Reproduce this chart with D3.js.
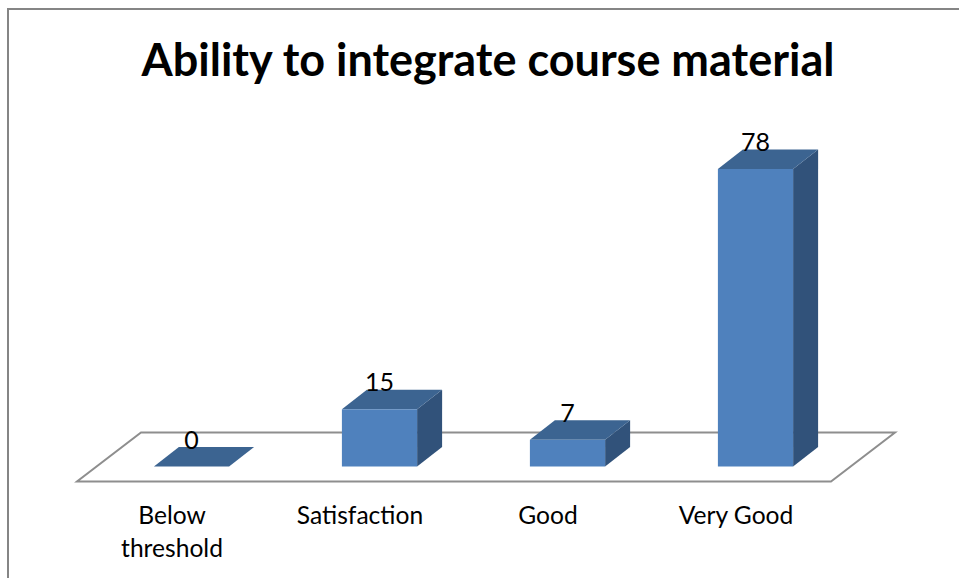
<!DOCTYPE html>
<html>
<head>
<meta charset="utf-8">
<script src="https://cdn.jsdelivr.net/npm/d3@7"></script>
<style>
    html, body { margin: 0; padding: 0; background: #fff; }
    svg { display: block; }
    text { font-family: Lato, sans-serif; fill: #000; }
</style>
</head>
<body>
<svg width="959" height="578"></svg>
<script>
var titleText  = 'Ability to integrate course material',
    categories = [ 'Below threshold', 'Satisfaction', 'Good', 'Very Good' ],
    axisLines  = { 'Below threshold' : [ 'Below', 'threshold' ] },
    values     = [ 0, 15, 7, 78 ];

var svg    = d3.select( 'svg' ),
    // oblique offset of the chart's fake 3D depth
    depth  = { x : 25, y : -19.5 },

    x = d3.scaleBand()
        .domain( categories )
        .range( [ 97.5, 849.5 ] )
        .paddingInner( 0.6 )
        .paddingOuter( 0.3 ),
    y = d3.scaleLinear()
        .domain( [ 0, 78 ] )
        .range( [ 466.5, 169 ] ),

    line = d3.line();

// frame, cut by the edge of the page on the right and at the bottom
svg.append( 'path' )
    .attr( 'd', line( [ [ 8, 578 ], [ 8, 9 ], [ 959, 9 ] ] ) )
    .attr( 'fill', 'none' )
    .attr( 'stroke', '#858585' )
    .attr( 'stroke-width', 2 );

svg.append( 'text' )
    .attr( 'x', 488 )
    .attr( 'y', 76 )
    .attr( 'text-anchor', 'middle' )
    .attr( 'font-size', 45 )
    .attr( 'font-weight', 700 )
    .text( titleText );

// floor of the plot
svg.append( 'path' )
    .attr( 'd', line( [ [ 77, 481.5 ], [ 831, 481.5 ], [ 895, 432.5 ], [ 141, 432.5 ] ] ) + 'Z' )
    .attr( 'fill', '#fff' )
    .attr( 'stroke', '#8e8e8e' )
    .attr( 'stroke-width', 2 );

var bars = svg.selectAll( '.bar' )
    .data( values )
    .enter().append( 'g' )
    .attr( 'class', 'bar' );

bars.append( 'path' )
    .attr( 'fill', '#31527a' )
    .attr( 'd', function ( d, i ) {
        var right = x( categories[ i ] ) + x.bandwidth();
        return line( [
            [ right, y( d ) ],
            [ right + depth.x, y( d ) + depth.y ],
            [ right + depth.x, y( 0 ) + depth.y ],
            [ right, y( 0 ) ]
        ] ) + 'Z';
    } );

bars.append( 'path' )
    .attr( 'fill', '#3c6491' )
    .attr( 'd', function ( d, i ) {
        var left  = x( categories[ i ] ),
            right = left + x.bandwidth();
        return line( [
            [ left, y( d ) ],
            [ left + depth.x, y( d ) + depth.y ],
            [ right + depth.x, y( d ) + depth.y ],
            [ right, y( d ) ]
        ] ) + 'Z';
    } );

bars.append( 'rect' )
    .attr( 'fill', '#4f81bd' )
    .attr( 'x', function ( d, i ) {
        return x( categories[ i ] );
    } )
    .attr( 'y', function ( d ) {
        return y( d );
    } )
    .attr( 'width', x.bandwidth() )
    .attr( 'height', function ( d ) {
        return y( 0 ) - y( d );
    } );

bars.append( 'text' )
    .attr( 'x', function ( d, i ) {
        return x( categories[ i ] ) + x.bandwidth() / 2;
    } )
    .attr( 'y', function ( d ) {
        return y( d ) + depth.y + 1.5;
    } )
    .attr( 'text-anchor', 'middle' )
    .attr( 'font-size', 25 )
    .text( function ( d ) {
        return d;
    } );

// category labels sit left of the bar centres, on the front edge of the floor
var axis = svg.append( 'g' )
    .attr( 'transform', 'translate(' + ( -19.5 ) + ',481)' )
    .call( d3.axisBottom( x ).tickSize( 0 ) );

axis.select( '.domain' ).remove();

axis.selectAll( 'text' )
    .attr( 'y', 0 )
    .attr( 'dy', null )
    .attr( 'font-size', 24.6 )
    .each( function ( d ) {
        var label = d3.select( this ).text( null );
        ( axisLines[ d ] || [ d ] ).forEach( function ( part, i ) {
            label.append( 'tspan' )
                .attr( 'x', 0 )
                .attr( 'y', 43 + i * 33 )
                .text( part );
        } );
    } );

axis.attr( 'font-family', null ).attr( 'font-size', null );
</script>
</body>
</html>
